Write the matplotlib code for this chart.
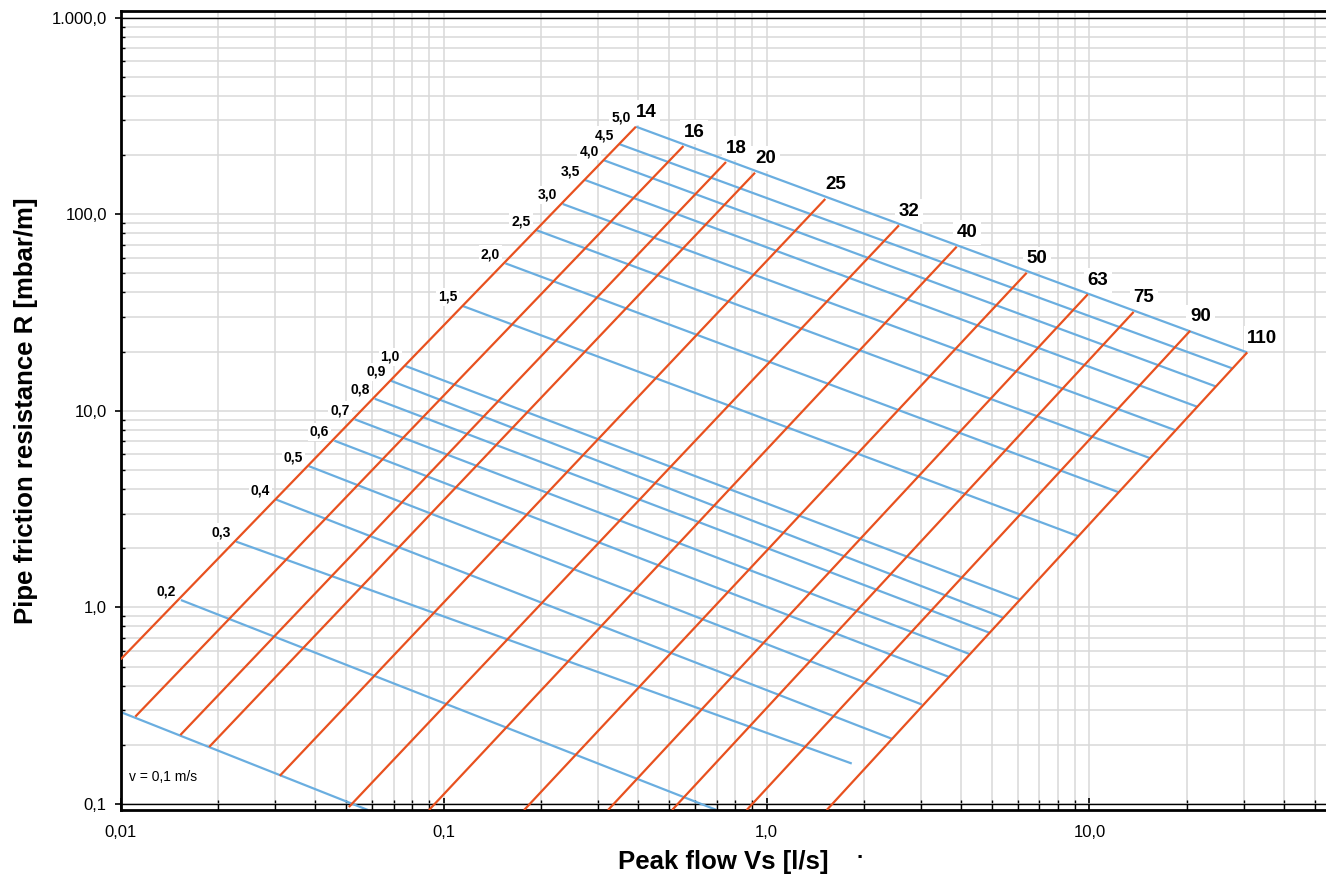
import matplotlib.pyplot as plt
from matplotlib.ticker import FixedLocator, LogLocator, NullFormatter

plt.rcParams['font.family'] = ['Liberation Sans', 'DejaVu Sans']

# pipe lines (outer diameter in mm), end points
# top end = v 5,0 m/s, bottom end = v 0,1 m/s or where the line leaves the frame
pipe_labels = ['14', '16', '18', '20', '25', '32', '40', '50', '63', '75', '90', '110']
pipe_top_flow = [0.394, 0.553, 0.749, 0.921, 1.52, 2.57, 3.88, 6.39, 9.88, 13.7, 20.5, 30.8]
pipe_top_res = [278.4, 222.0, 184.1, 162.4, 119.4, 87.7, 68.3, 50.3, 39.1, 31.8, 25.5, 19.8]
pipe_bot_flow = [0.01, 0.0111, 0.0153, 0.0188, 0.0311, 0.0509, 0.0901, 0.1775, 0.323, 0.510, 0.868, 1.536]
pipe_bot_res = [0.544, 0.278, 0.224, 0.195, 0.139, 0.0964, 0.0931, 0.0931, 0.0931, 0.0931, 0.0931, 0.0931]

# velocity lines (m/s): left end on the 14 pipe, right end on the 110 pipe
vel_labels = ['', '0,2', '0,3', '0,4', '0,5', '0,6', '0,7', '0,8', '0,9', '1,0',
              '1,5', '2,0', '2,5', '3,0', '3,5', '4,0', '4,5', '5,0']
vel_left_flow = [0.01, 0.01537, 0.02276, 0.0302, 0.0382, 0.0459, 0.0531, 0.0612, 0.0687, 0.0761,
                 0.1146, 0.1553, 0.1933, 0.2338, 0.2741, 0.3139, 0.3493, 0.3944]
vel_left_res = [0.2934, 1.089, 2.16, 3.54, 5.23, 7.04, 9.04, 11.5, 14.2, 16.9,
                34.1, 56.2, 83.0, 112.6, 149.1, 187.8, 227.3, 278.4]
vel_right_flow = [0.0583, 0.701, 1.836, 2.442, 3.025, 3.656, 4.248, 4.898, 5.389, 6.066,
                  9.23, 12.31, 15.39, 18.47, 21.54, 24.61, 27.69, 30.76]
vel_right_res = [0.0931, 0.0931, 0.1605, 0.2146, 0.3204, 0.4436, 0.579, 0.743, 0.887, 1.098,
                 2.30, 3.85, 5.74, 7.95, 10.48, 13.29, 16.42, 19.8]

x_ticks = [0.01, 0.1, 1.0, 10.0]
x_tick_labels = ['0,01', '0,1', '1,0', '10,0']
y_ticks = [0.1, 1.0, 10.0, 100.0, 1000.0]
y_tick_labels = ['0,1', '1,0', '10,0', '100,0', '1.000,0']

ORANGE = '#e8511f'
BLUE = '#6aaee0'
GRID = '#d9d9d9'

fig = plt.figure(figsize=(13.26, 8.82), dpi=100)
ax = fig.add_axes([0.0910, 0.0816, 0.9090, 0.9059])
ax.set_xscale('log')
ax.set_yscale('log')
ax.set_xlim(0.01, 54.0)
ax.set_ylim(0.0931, 1079)

ax.grid(True, which='both', color=GRID, lw=1.1)
ax.set_axisbelow(True)
ax.axhline(1000, color='black', lw=1.0, zorder=1.5)
ax.axhline(0.1, color='black', lw=1.0, zorder=1.5)

# labels sit on white boxes that hide the grid, but stay under the lines
for i in range(len(vel_labels)):
    ax.plot([vel_left_flow[i], vel_right_flow[i]], [vel_left_res[i], vel_right_res[i]],
            color=BLUE, lw=1.6, solid_capstyle='butt', zorder=2)
    if vel_labels[i]:
        ax.annotate(vel_labels[i], (vel_left_flow[i], vel_left_res[i]),
                    xytext=(-15, 9), textcoords='offset pixels', ha='center', va='center',
                    fontsize=10, fontweight='bold', zorder=1.8,
                    bbox=dict(boxstyle='square,pad=0.15', fc='white', ec='none'))

for i in range(len(pipe_labels)):
    ax.plot([pipe_bot_flow[i], pipe_top_flow[i]], [pipe_bot_res[i], pipe_top_res[i]],
            color=ORANGE, lw=1.6, solid_capstyle='butt', zorder=3)
    ax.annotate(pipe_labels[i], (pipe_top_flow[i], pipe_top_res[i]),
                xytext=(0, 14), textcoords='offset pixels', ha='left', va='center',
                fontsize=13.5, fontweight='bold', zorder=1.8,
                bbox=dict(boxstyle='square,pad=0.2', fc='white', ec='none'))

fig.text(129 / 1326, 1 - 777 / 882, 'v = 0,1 m/s', fontsize=10, va='center')

ax.xaxis.set_major_locator(FixedLocator(x_ticks))
ax.set_xticklabels(x_tick_labels)
ax.xaxis.set_minor_locator(LogLocator(base=10, subs=range(2, 10), numticks=20))
ax.xaxis.set_minor_formatter(NullFormatter())
ax.yaxis.set_major_locator(FixedLocator(y_ticks))
ax.set_yticklabels(y_tick_labels)
ax.yaxis.set_minor_locator(LogLocator(base=10, subs=range(2, 10), numticks=20))
ax.yaxis.set_minor_formatter(NullFormatter())

ax.tick_params(axis='x', which='major', direction='in', length=9, width=1.2, labelsize=12, pad=11)
ax.tick_params(axis='x', which='minor', direction='in', length=7, width=1.0)
ax.tick_params(axis='y', which='major', direction='out', length=4, width=1.2, labelsize=12, pad=6)
ax.tick_params(axis='y', which='minor', direction='in', length=3, width=1.0)

for side in ['left', 'bottom', 'top']:
    ax.spines[side].set_linewidth(2.0)
ax.spines['right'].set_visible(False)

ax.set_xlabel('Peak flow Vs [l/s]', fontsize=18.5, fontweight='bold', labelpad=7)
ax.set_ylabel('Pipe friction resistance R [mbar/m]', fontsize=18.5, fontweight='bold', labelpad=10)
fig.text(860 / 1326, 1 - 853 / 882, '.', fontsize=16, fontweight='bold', ha='center', va='center')

fig.savefig('out.png', dpi=100)
